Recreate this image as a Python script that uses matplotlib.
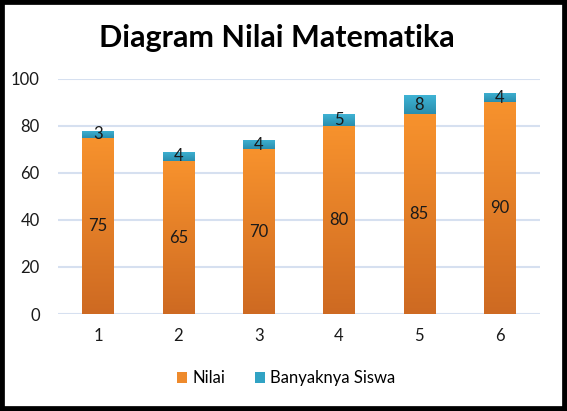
import numpy as np
import matplotlib
matplotlib.use("Agg")
from matplotlib import pyplot as plt
from matplotlib.colors import LinearSegmentedColormap
from matplotlib.patches import Rectangle

plt.rcParams["font.family"] = ["Lato", "DejaVu Sans"]

# data
categories = ["1", "2", "3", "4", "5", "6"]
nilai = [75, 65, 70, 80, 85, 90]
siswa = [3, 4, 4, 5, 8, 4]

fig = plt.figure(figsize=(5.67, 4.11), dpi=100)
ax = fig.add_axes([0.102, 0.236, 0.850, 0.572])

x = np.arange(len(categories))
w = 0.39
orange_bars = ax.bar(x, nilai, w, color="#EE8A2C", label="Nilai", zorder=2)
blue_bars = ax.bar(x, siswa, w, bottom=nilai, color="#31A3C4", label="Banyaknya Siswa", zorder=2)

# gradient fill like excel
cm_orange = LinearSegmentedColormap.from_list("o", ["#CE6A22", "#F7922D"])
cm_blue = LinearSegmentedColormap.from_list("b", ["#2A8EAE", "#3FB3D4"])
grad = np.linspace(0, 1, 100).reshape(-1, 1)
for bars, cm in [(orange_bars, cm_orange), (blue_bars, cm_blue)]:
    for b in bars:
        x0, y0 = b.get_x(), b.get_y()
        im = ax.imshow(grad, cmap=cm, origin="lower", aspect="auto",
                       extent=[x0, x0 + b.get_width(), y0, y0 + b.get_height()], zorder=3)
        im.set_clip_path(b)

# labels
for i in range(len(categories)):
    ax.text(x[i], nilai[i] / 2, str(nilai[i]), ha="center", va="center", fontsize=12, color="#1a1a1a", zorder=4)
    ax.text(x[i], nilai[i] + siswa[i] / 2, str(siswa[i]), ha="center", va="center", fontsize=12, color="#1a1a1a", zorder=4)

ax.set_xlim(-0.5, 5.5)
ax.set_ylim(0, 100)
ax.set_yticks(range(0, 101, 20))
ax.set_xticks(x)
ax.set_xticklabels(categories)
ax.tick_params(length=0, labelsize=12, colors="#1a1a1a", pad=10)
ax.tick_params(axis="y", pad=13)
ax.grid(axis="y", color="#D6E0F0", linewidth=1.5, zorder=0)
for s in ax.spines.values():
    s.set_visible(False)

fig.text(0.489, 0.907, "Diagram Nilai Matematika", ha="center", va="center", fontsize=22, fontweight="bold")

fig.legend(handles=[orange_bars, blue_bars], loc="center", bbox_to_anchor=(0.505, 0.08), ncol=2,
           frameon=False, fontsize=12, handlelength=0.6, handleheight=0.6, columnspacing=1.8, handletextpad=0.3)

fig.patches.append(Rectangle((0, 0), 1, 1, transform=fig.transFigure, fill=False,
                             edgecolor="black", linewidth=7, figure=fig))

fig.savefig("out.png", dpi=100)
